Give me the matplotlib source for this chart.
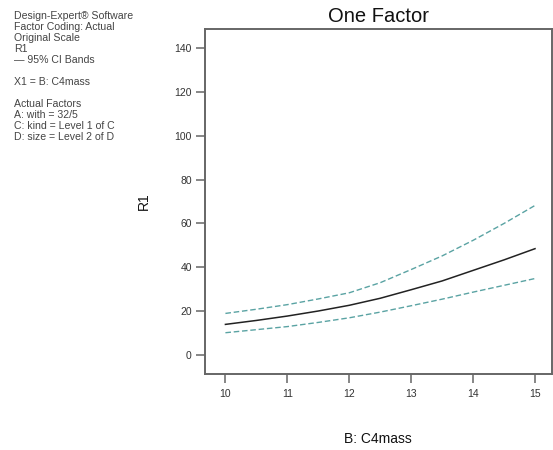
import matplotlib
matplotlib.use("Agg")
import matplotlib.pyplot as plt

plt.rcParams['font.family'] = ['Liberation Sans', 'DejaVu Sans']

# predicted R1 over the C4mass range with 95% CI bands
c4mass = [10, 10.5, 11, 11.5, 12, 12.5, 13, 13.5, 14, 14.5, 15]
r1_pred = [14.0, 15.8, 17.8, 20.1, 22.7, 25.9, 29.8, 33.8, 38.6, 43.4, 48.5]
r1_upper = [19.0, 20.9, 23.0, 25.6, 28.4, 33.0, 39.0, 45.2, 52.3, 60.0, 68.2]
r1_lower = [10.2, 11.6, 13.0, 14.9, 17.0, 19.6, 22.5, 25.5, 28.7, 31.8, 34.9]

xticks = [10, 11, 12, 13, 14, 15]
yticks = [0, 20, 40, 60, 80, 100, 120, 140]

info_lines = [
    "Design-Expert\u00ae Software",
    "Factor Coding: Actual",
    "Original Scale",
    "R1",
    "\u2014 95% CI Bands",
    "",
    "X1 = B: C4mass",
    "",
    "Actual Factors",
    "A: with = 32/5",
    "C: kind = Level 1 of C",
    "D: size = Level 2 of D",
]

fig = plt.figure(figsize=(5.53, 4.5), dpi=100)
ax = fig.add_axes([0.3707, 0.1689, 0.627, 0.7667])

band_color = "#5aa3a3"
ax.plot(c4mass, r1_upper, color=band_color, lw=1.0, ls=(0, (4, 2)))
ax.plot(c4mass, r1_lower, color=band_color, lw=1.0, ls=(0, (4, 2)))
ax.plot(c4mass, r1_pred, color="#222222", lw=1.1)

ax.set_xlim(9.67, 15.27)
ax.set_ylim(-8.6, 148.6)
ax.set_xticks(xticks)
ax.set_yticks(yticks)

for s in ax.spines.values():
    s.set_color("#666666")
    s.set_linewidth(1.4)

ax.tick_params(direction="out", length=6.5, width=1.1, color="#666666",
               labelsize=7.5, labelcolor="#333333")
ax.tick_params(axis="x", pad=4)
ax.tick_params(axis="y", pad=3)

ax.set_title("One Factor", fontsize=14.5, pad=5, color="#111111")
ax.set_xlabel("B: C4mass", fontsize=10, labelpad=24, color="#111111")
ax.set_ylabel("R1", fontsize=10, labelpad=17, color="#111111")

y0 = 1 - 16 / 450
for i, line in enumerate(info_lines):
    fig.text(14 / 553, y0 - i * 11 / 450, line, fontsize=7.6, color="#444444",
             va="center", ha="left")

fig.savefig("out.png", dpi=100)
